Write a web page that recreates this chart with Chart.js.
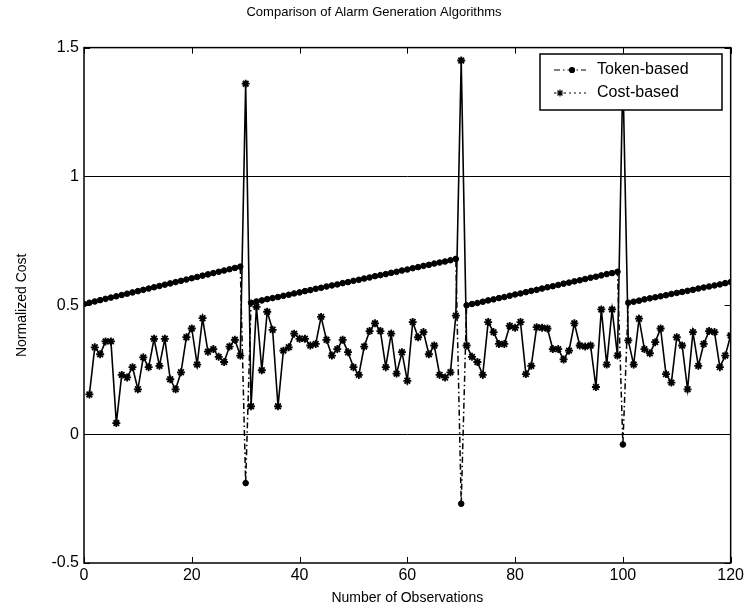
<!DOCTYPE html>
<html>
<head>
<meta charset="utf-8">
<script src="https://cdn.jsdelivr.net/npm/chart.js@4.4.1/dist/chart.umd.min.js"></script>
<style>
  html, body { margin: 0; padding: 0; background: #fff; }
  #wrap { width: 747px; height: 607px; }
</style>
</head>
<body>
<div id="wrap"><canvas id="chart" width="747" height="607"></canvas></div>
<script>
// data
const tokenStartX = 0;
const tokenBased = [
  0.505,0.510,0.515,0.520,0.525,0.530,0.535,0.540,0.545,0.550,0.555,0.560,0.565,0.570,0.575,
  0.580,0.585,0.590,0.595,0.600,0.605,0.610,0.615,0.620,0.625,0.630,0.635,0.640,0.645,0.650,
  -0.19,
  0.510,0.515,0.519,0.524,0.528,0.532,0.537,0.541,0.546,0.550,0.555,0.559,0.564,0.568,0.573,
  0.577,0.581,0.586,0.590,0.595,0.599,0.604,0.608,0.613,0.617,0.621,0.626,0.630,0.635,0.639,
  0.644,0.648,0.653,0.657,0.662,0.666,0.670,0.675,0.680,
  -0.27,
  0.500,0.505,0.509,0.514,0.519,0.523,0.528,0.532,0.537,0.542,0.546,0.551,0.556,0.560,0.565,
  0.570,0.574,0.579,0.584,0.588,0.593,0.597,0.602,0.607,0.611,0.616,0.621,0.625,0.630,
  -0.04,
  0.510,0.514,0.518,0.523,0.527,0.531,0.535,0.539,0.544,0.548,0.552,0.556,0.560,0.565,0.569,
  0.573,0.577,0.581,0.586,0.590
];
const costStartX = 1;
const costBased = [
  0.154,0.337,0.31,0.36,0.36,0.043,0.23,0.22,0.26,0.174,0.298,0.26,0.37,0.265,0.37,
  0.213,0.174,0.24,0.376,0.41,0.27,0.45,0.32,0.33,0.30,0.28,0.34,0.366,0.305,
  1.36,
  0.108,0.494,0.248,0.475,0.405,0.108,0.324,0.337,0.39,0.37,0.37,0.344,0.35,0.455,0.366,
  0.305,0.33,0.366,0.318,0.26,0.23,0.34,0.40,0.43,0.40,0.26,0.39,0.235,0.318,0.207,
  0.435,0.376,0.396,0.31,0.344,0.23,0.22,0.24,0.46,
  1.45,
  0.344,0.30,0.28,0.23,0.435,0.396,0.35,0.35,0.42,0.413,0.435,0.233,0.265,0.415,0.413,
  0.41,0.33,0.33,0.29,0.324,0.43,0.344,0.34,0.344,0.183,0.484,0.27,0.484,0.305,
  1.40,
  0.364,0.27,0.448,0.33,0.314,0.357,0.41,0.233,0.2,0.376,0.344,0.174,0.396,0.265,0.35,
  0.40,0.396,0.26,0.305,0.383
];
const xTickValues = [0, 20, 40, 60, 80, 100, 120];
const yTickValues = [-0.5, 0, 0.5, 1, 1.5];
const refLines = [0, 1];

const FONT = "'Liberation Sans', Arial, sans-serif";

function toPoints(start, arr) {
  return arr.map((v, i) => ({ x: start + i, y: v }));
}

// box, inward ticks and the legend drawn the matlab way
const matlabFrame = {
  id: 'matlabFrame',
  afterDatasetsDraw(chart) {
    const { ctx, chartArea: a, scales } = chart;
    ctx.save();
    ctx.strokeStyle = '#000';
    ctx.lineWidth = 1.5;
    ctx.strokeRect(a.left, a.top, a.right - a.left, a.bottom - a.top);
    ctx.lineWidth = 1;
    ctx.beginPath();
    xTickValues.forEach(v => {
      const px = Math.round(scales.x.getPixelForValue(v)) + 0.5;
      ctx.moveTo(px, a.bottom); ctx.lineTo(px, a.bottom - 6);
      ctx.moveTo(px, a.top); ctx.lineTo(px, a.top + 6);
    });
    yTickValues.forEach(v => {
      const py = Math.round(scales.y.getPixelForValue(v)) + 0.5;
      ctx.moveTo(a.left, py); ctx.lineTo(a.left + 6, py);
      ctx.moveTo(a.right, py); ctx.lineTo(a.right - 6, py);
    });
    ctx.stroke();

    // legend box
    const bx = 540, by = 54, bw = 182, bh = 56;
    ctx.fillStyle = '#fff';
    ctx.fillRect(bx, by, bw, bh);
    ctx.lineWidth = 1.5;
    ctx.strokeRect(bx, by, bw, bh);
    ctx.font = '16px ' + FONT;
    ctx.textBaseline = 'middle';
    chart.data.datasets.forEach((ds, i) => {
      const y = by + 16 + i * 23;
      ctx.strokeStyle = '#000';
      ctx.lineWidth = 1.2;
      ctx.setLineDash(i === 0 ? [6, 3, 1.5, 3] : [2, 3]);
      ctx.beginPath();
      ctx.moveTo(bx + 14, y); ctx.lineTo(bx + 46, y);
      ctx.stroke();
      ctx.setLineDash([]);
      const mx = i === 0 ? bx + 32 : bx + 20;
      Chart.helpers.drawPoint(ctx, {
        pointStyle: ds.pointStyle, radius: i === 0 ? 2.5 : 3.5, borderWidth: 1.5
      }, mx, y);
      ctx.fillStyle = '#000';
      ctx.fill();
      ctx.fillText(ds.label, bx + 57, y);
    });
    ctx.restore();
  }
};

new Chart(document.getElementById('chart'), {
  type: 'line',
  data: {
    datasets: [
      {
        label: 'Token-based',
        data: toPoints(tokenStartX, tokenBased),
        borderColor: '#000',
        backgroundColor: '#000',
        borderWidth: 1.5,
        borderDash: [6, 3, 1.5, 3],
        pointStyle: 'circle',
        pointRadius: 2.8,
        pointBorderWidth: 1,
        pointBackgroundColor: '#000',
        pointBorderColor: '#000',
        tension: 0
      },
      {
        label: 'Cost-based',
        data: toPoints(costStartX, costBased),
        borderColor: '#000',
        backgroundColor: '#000',
        borderWidth: 1.6,
        pointStyle: 'star',
        pointRadius: 4,
        pointBorderWidth: 1.8,
        pointBorderColor: '#000',
        tension: 0
      }
    ]
  },
  options: {
    responsive: false,
    animation: false,
    events: [],
    layout: { padding: { left: 14, right: 13, top: 0, bottom: 0 } },
    plugins: {
      legend: { display: false },
      tooltip: { enabled: false },
      title: {
        display: true,
        text: 'Comparison of Alarm Generation Algorithms',
        color: '#000',
        font: { family: FONT, size: 13, weight: 'normal' },
        padding: { top: 5, bottom: 27 }
      }
    },
    scales: {
      x: {
        type: 'linear',
        min: 0,
        max: 120,
        afterBuildTicks: s => { s.ticks = xTickValues.map(v => ({ value: v })); },
        afterFit: s => { s.height = 44; },
        grid: { display: false, drawTicks: false },
        border: { display: false },
        ticks: { color: '#000', font: { family: FONT, size: 16 }, padding: 3, maxRotation: 0 },
        title: {
          display: true,
          text: 'Number of Observations',
          color: '#000',
          font: { family: FONT, size: 14 },
          padding: { top: 0, bottom: 0 }
        }
      },
      y: {
        type: 'linear',
        min: -0.5,
        max: 1.5,
        afterBuildTicks: s => { s.ticks = yTickValues.map(v => ({ value: v })); },
        afterFit: s => { s.width = 70; },
        grid: {
          drawTicks: false,
          lineWidth: 1,
          color: c => (c.tick && refLines.includes(c.tick.value)) ? '#000' : 'rgba(0,0,0,0)'
        },
        border: { display: false },
        ticks: {
          color: '#000',
          font: { family: FONT, size: 16 },
          padding: 5,
          callback: v => String(v)
        },
        title: {
          display: true,
          text: 'Normalized Cost',
          color: '#000',
          font: { family: FONT, size: 14 },
          padding: { top: 0, bottom: 0 }
        }
      }
    }
  },
  plugins: [matlabFrame]
});
</script>
</body>
</html>
